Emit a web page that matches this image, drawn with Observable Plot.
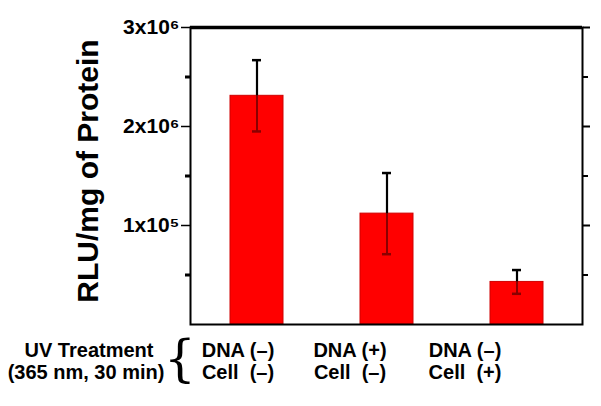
<!DOCTYPE html>
<html>
<head>
<meta charset="utf-8">
<script src="https://cdn.jsdelivr.net/npm/d3@7"></script>
<script src="https://cdn.jsdelivr.net/npm/@observablehq/plot@0.6"></script>
<style>
  html, body { margin: 0; padding: 0; background: #fff; }
  #wrap { position: relative; width: 601px; height: 406px; font-family: "Liberation Sans", Arial, sans-serif; font-weight: bold; color: #000; }
  #chart svg { display: block; }
  .lab { position: absolute; font-size: 20px; line-height: 22px; white-space: pre; transform: translateX(-50%); }
  .brace { position: absolute; font-family: "DejaVu Serif", serif; font-weight: normal; font-size: 50px; line-height: 50px; }
</style>
</head>
<body>
<div id="wrap">
  <div id="chart"></div>
  <div id="labels"></div>
</div>
<script>
const categories = ["c1", "c2", "c3"];
const means = [2.31e6, 1.12e6, 0.43e6];
const errors = [0.36e6, 0.41e6, 0.12e6];
const dnaLabels = ["DNA (–)", "DNA (+)", "DNA (–)"];
const cellLabels = ["Cell  (–)", "Cell  (–)", "Cell  (+)"];
const majorTicks = [1e6, 2e6, 3e6];
const majorTickLabels = ["1x10⁵", "2x10⁶", "3x10⁶"];
const minorTicks = [0.5e6, 1.5e6, 2.5e6];
const yTitle = "RLU/mg of Protein";
const treatmentLabels = ["UV Treatment", "(365 nm, 30 min)"];

const data = categories.map((c, i) => ({cat: c, mean: means[i], lo: means[i] - errors[i], hi: means[i] + errors[i]}));

const plot = Plot.plot({
  width: 601,
  height: 330,
  marginLeft: 190,
  marginRight: 19,
  marginTop: 27,
  marginBottom: 6,
  style: {fontFamily: "'Liberation Sans', Arial, sans-serif", fontWeight: "bold", color: "#000", background: "#fff"},
  x: {domain: categories, axis: null, paddingInner: 0.595, paddingOuter: 0.3},
  y: {domain: [0, 3e6], axis: null},
  marks: [
    Plot.barY(data, {x: "cat", y: "mean", fill: "#ff0000", stroke: "#d00000", strokeWidth: 1}),
    Plot.ruleX(data, {x: "cat", y1: "lo", y2: "mean", stroke: "#8a0000", strokeWidth: 2}),
    Plot.tickY(data, {x: "cat", y: "lo", stroke: "#8a0000", strokeWidth: 2.5, insetLeft: 22, insetRight: 22}),
    Plot.ruleX(data, {x: "cat", y1: "mean", y2: "hi", stroke: "#000", strokeWidth: 2.2}),
    Plot.tickY(data, {x: "cat", y: "hi", stroke: "#000", strokeWidth: 2.5, insetLeft: 22, insetRight: 22}),
    Plot.frame({stroke: "#000", strokeWidth: 2}),
    Plot.ruleY(majorTicks.slice(-1), {stroke: "#000", strokeWidth: 3.5}),
    Plot.axisY({ticks: majorTicks, tickFormat: d => majorTickLabels[majorTicks.indexOf(d)], tickSize: 9, tickPadding: 2, strokeWidth: 1.5, fontSize: 21, fontWeight: "bold", label: null}),
    Plot.axisY({ticks: minorTicks, tickFormat: () => "", tickSize: 5, strokeWidth: 3, label: null}),
    Plot.axisY({anchor: "right", ticks: majorTicks, tickFormat: () => "", tickSize: 7, strokeWidth: 2, label: null}),
    Plot.axisY({anchor: "right", ticks: minorTicks, tickFormat: () => "", tickSize: 5, strokeWidth: 2, label: null}),
    Plot.text([yTitle], {frameAnchor: "left", textAnchor: "middle", rotate: -90, dx: -102, dy: -5, fontSize: 30, fontWeight: "bold", fill: "#000"})
  ]
});
document.getElementById("chart").appendChild(plot);

// Category and treatment labels below the chart
const xs = [238, 350, 465];
const L = document.getElementById("labels");
function add(text, left, top, cls) {
  const d = document.createElement("div");
  d.className = cls;
  d.textContent = text;
  d.style.left = left + "px";
  d.style.top = top + "px";
  L.appendChild(d);
}
add(treatmentLabels[0], 89, 339, "lab");
add(treatmentLabels[1], 86, 361, "lab");
add("{", 164, 334, "brace");
categories.forEach((c, i) => {
  add(dnaLabels[i], xs[i], 339, "lab");
  add(cellLabels[i], xs[i], 361, "lab");
});
</script>
</body>
</html>
